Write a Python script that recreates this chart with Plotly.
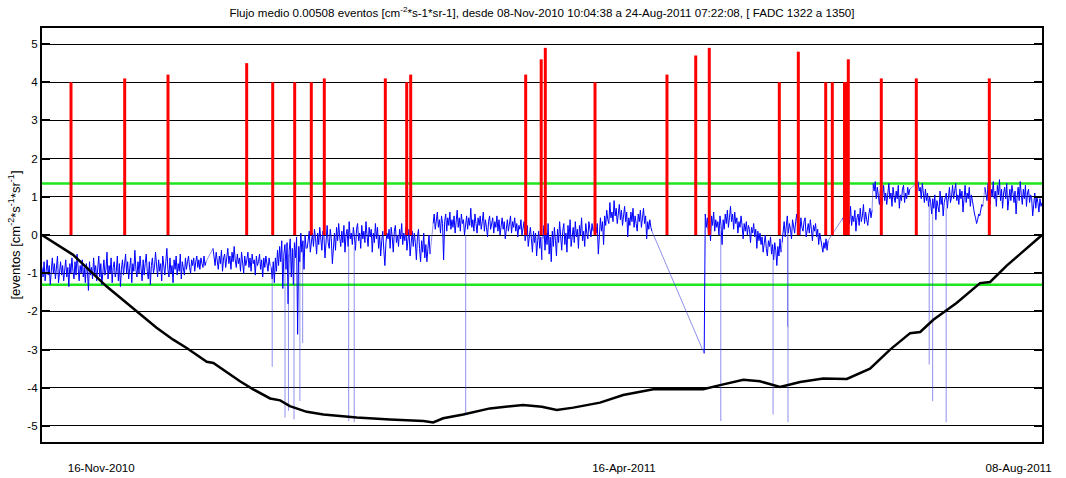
import numpy as np
import pandas as pd
import plotly.graph_objects as go

# Run period
START = pd.Timestamp("2010-11-08 10:04:38")
END = pd.Timestamp("2011-08-24 07:22:08")

# Normalised flux (blue), stored per continuous data block:
# (first day, last day) since START, then the samples of that block
seg_a_span = (0.0, 47.4)
seg_a = [-0.85, -1.10, -0.70, -1.20, -0.95, -0.65, -1.05, -0.80, -1.30, -0.90,
         -0.60, -1.00, -0.75, -1.15, -0.85, -0.55, -1.25, -0.95, -0.70, -1.05,
         -0.80, -1.20, -0.90, -0.65, -1.10, -0.85, -1.35, -0.75, -1.00, -0.60,
         -0.95, -1.15, -0.70, -1.05, -0.50, -0.90, -1.20, -0.80, -1.00, -0.65,
         -1.10, -0.85, -1.25, -0.75, -0.95, -1.45, -0.70, -1.05, -0.85, -1.15,
         -0.60, -1.00, -0.80, -1.20, -0.90, -0.55, -1.10, -0.75, -1.30, -0.85,
         -0.65, -1.05, -0.90, -0.45, -1.15, -0.80, -1.00, -0.60, -1.25, -0.85,
         -0.70, -1.10, -0.95, -0.55, -1.20, -0.75, -1.35, -0.90, -0.65, -1.05,
         -0.80, -0.50, -1.00, -0.70, -1.15, -0.85, -0.60, -1.25, -0.75, -0.95,
         -0.40, -0.90, -1.10, -0.70, -1.00, -0.55, -0.85, -1.20, -0.65, -1.05,
         -0.75, -0.50, -0.95, -1.15, -0.70, -1.30, -0.80, -0.60, -1.00, -0.85,
         -0.45, -0.90, -1.10, -0.65, -0.95, -0.75, -1.20, -0.55, -0.85, -1.05,
         -0.70, -0.35, -0.90, -1.10, -0.60, -1.00, -0.80, -1.25, -0.65, -0.90,
         -0.55, -1.05, -0.75, -0.95, -0.50, -1.15, -0.70, -0.85, -1.05, -0.60,
         -0.90, -0.70, -0.55, -0.85, -1.00, -0.65, -0.80, -0.60, -0.95, -0.70,
         -0.55, -0.85, -0.65, -0.90, -0.60, -0.75, -0.85, -0.55, -0.80, -0.70]
seg_b_span = (49.4, 65.9)
seg_b = [-0.35, -0.60, -0.80, -0.45, -0.70, -0.90, -0.55, -0.75, -0.40, -0.95,
         -0.60, -0.50, -0.85, -0.65, -0.35, -0.75, -0.55, -0.90, -0.45, -0.70,
         -0.30, -0.65, -0.85, -0.50, -0.75, -0.60, -0.95, -0.45, -0.70, -1.00,
         -0.55, -0.80, -0.65, -0.45, -0.85, -0.60, -0.95, -0.50, -0.75, -0.65,
         -1.05, -0.55, -0.80, -0.70, -0.50, -0.90, -0.65, -1.10, -0.60, -0.85,
         -0.55, -0.75, -0.95, -0.60, -0.80]
seg_c_span = (66.2, 76.3)
seg_c = [-0.85, -1.15, -0.70, -1.25, -0.60, -0.95, -0.40, -0.80, -0.30, -0.70,
         -0.15, -1.40, -0.50, -0.25, -0.90, -0.20, -1.80, -0.40, -0.10, -1.10,
         -0.35, -1.30, -0.20, -0.60, -0.05, -2.60, -0.30, -0.70, 0.05, -0.45,
         -0.15, -0.90, 0.00, -0.35]
seg_d_span = (76.6, 112.1)
seg_d = [-0.35, -0.05, 0.10, -0.45, -0.20, 0.05, -0.30, 0.15, -0.10, -0.50,
         0.05, -0.25, 0.20, -0.15, -0.40, 0.10, -0.05, -0.60, 0.00, 0.25,
         -0.20, -0.35, 0.15, -0.10, -0.75, -0.25, 0.05, -0.40, 0.20, -0.15,
         0.30, -0.05, -0.30, 0.10, -0.20, 0.25, -0.45, 0.00, 0.15, -0.30,
         0.35, -0.10, 0.05, -0.25, 0.20, -0.05, -0.40, 0.15, 0.30, -0.15,
         0.05, -0.35, 0.25, -0.10, 0.10, -0.20, 0.35, 0.00, -0.30, 0.20,
         -0.05, 0.15, -0.45, 0.05, -0.20, 0.30, -0.10, 0.20, -0.35, 0.00,
         -0.55, -0.15, 0.10, -0.40, -0.80, -0.20, 0.05, -0.10, 0.15, -0.35,
         0.20, -0.05, -0.45, 0.10, 0.25, -0.20, 0.00, -0.30, 0.15, -0.10,
         0.30, -0.25, 0.05, -0.15, 0.20, -0.40, 0.00, 0.15, -0.55, -0.10,
         0.10, -0.30, 0.05, -0.20, -0.65, -0.05, 0.15, -0.35, -0.70, -0.15,
         -0.45, 0.05, -0.60, -0.25, -0.70, -0.35, 0.00, -0.50]
seg_e_span = (113.0, 144.4)
seg_e = [0.30, 0.55, 0.15, 0.45, 0.60, 0.20, 0.40, 0.05, 0.50, 0.30,
         -0.65, 0.35, 0.55, 0.10, 0.45, 0.25, 0.60, 0.15, 0.40, 0.20,
         0.50, 0.05, 0.35, 0.65, 0.20, 0.45, 0.10, 0.55, 0.30, 0.40,
         0.00, 0.35, 0.50, 0.15, 0.45, 0.25, 0.70, 0.20, 0.40, 0.10,
         0.55, 0.30, 0.05, 0.45, 0.25, 0.50, 0.15, 0.35, 0.60, 0.10,
         0.40, 0.20, -0.05, 0.35, 0.50, 0.15, 0.30, 0.45, 0.05, 0.35,
         0.20, 0.50, 0.10, 0.40, 0.00, 0.30, 0.45, 0.15, 0.35, -0.10,
         0.25, 0.40, 0.10, 0.30, 0.50, 0.05, 0.35, 0.20, 0.45, 0.10,
         0.30, -0.05, 0.25, 0.15, 0.40, 0.00, 0.20, 0.35, -0.15, 0.10,
         0.25, -0.30, 0.05, 0.20, -0.10, -0.45, 0.10, -0.20, 0.05, -0.55,
         -0.15, 0.10, -0.35, -0.05, -0.65]
seg_f_span = (144.7, 159.2)
seg_f = [-0.10, 0.25, -0.40, 0.05, -0.25, 0.30, -0.50, -0.05, -0.70, 0.10,
         -0.30, 0.20, -0.15, -0.55, 0.15, -0.20, 0.35, -0.05, -0.40, 0.10,
         0.30, -0.25, 0.05, -0.45, 0.25, -0.10, 0.40, -0.30, 0.05, 0.20,
         -0.20, 0.35, -0.05, 0.15, -0.35, 0.25, 0.00, 0.45, -0.15, 0.10,
         -0.30, 0.30, 0.05, -0.10, 0.35, 0.15, -0.05, 0.30, 0.10]
seg_g_span = (159.5, 176.2)
seg_g = [0.15, 0.40, 0.05, 0.30, -0.50, 0.20, 0.45, 0.10, 0.35, -0.25,
         0.50, 0.25, 0.65, 0.40, 0.30, 0.85, 0.45, 0.60, 0.35, 0.90,
         0.50, 0.70, 0.30, 0.55, 0.80, 0.40, 0.65, 0.25, 0.55, 0.75,
         0.35, 0.60, -0.05, 0.45, 0.25, 0.60, 0.35, 0.70, 0.20, 0.50,
         0.30, 0.10, 0.55, 0.35, 0.65, 0.20, 0.45, 0.70, 0.30, 0.50,
         -0.10, 0.35, 0.15, 0.40, 0.20, 0.10]
seg_h_span = (191.3, 213.5)
seg_h = [-3.10, 0.55, 0.20, 0.45, 0.05, 0.35, -0.15, 0.50, 0.25, 0.60,
         0.10, 0.40, 0.20, 0.35, 0.00, 0.50, 0.25, -0.25, 0.40, 0.15,
         0.55, 0.30, 0.65, 0.20, 0.45, 0.75, 0.35, 0.55, 0.15, 0.60,
         0.30, 0.45, 0.05, 0.35, 0.20, 0.50, 0.25, -0.10, 0.30, 0.10,
         0.35, 0.00, 0.25, 0.15, -0.20, 0.20, 0.05, 0.30, -0.05, 0.15,
         -0.35, 0.10, -0.15, 0.05, -0.25, -0.05, -0.45, -0.20, 0.00, -0.35,
         -0.55, -0.15, -0.30, -0.05, -0.50, -0.25, -0.65, -0.20, -0.40, -0.80,
         -0.30, -0.55, -0.10, -0.45]
seg_i_span = (213.8, 227.1)
seg_i = [-0.20, 0.10, 0.35, -0.05, 0.25, 0.50, 0.05, 0.30, 0.15, -0.10,
         0.40, 0.20, 0.05, 0.35, 0.55, 0.15, 0.30, 0.00, 0.45, 0.20,
         0.10, 0.35, 0.45, -0.05, 0.20, 0.30, 0.05, 0.40, 0.15, -0.15,
         0.25, 0.10, 0.30, -0.05, 0.15, -0.25, 0.05, -0.10, -0.30, -0.45,
         -0.20, -0.35, -0.10, -0.40, -0.15]
seg_j_span = (231.4, 239.8)
seg_j = [0.45, 0.20, 0.55, 0.15, 0.40, 0.60, 0.30, 0.75, 0.25, 0.50,
         0.35, 0.65, 0.10, 0.45, 0.55, 0.25, 0.70, 0.35, 0.50, 0.80,
         0.30, 0.60, 0.40, 0.25, 0.55, 0.70, 0.45, 0.65]
seg_k_span = (240.1, 250.7)
seg_k = [1.35, 1.15, 1.40, 0.95, 1.25, 1.05, 0.80, 1.20, 0.70, 1.00,
         1.30, 0.90, 1.10, 0.80, 1.20, 1.35, 0.95, 1.10, 0.75, 1.25,
         1.00, 0.85, 1.15, 0.95, 1.30, 0.70, 1.05, 0.90, 1.20, 1.30,
         0.85, 1.10, 0.95, 1.25, 1.05, 1.20]
seg_l_span = (253.1, 271.8)
seg_l = [1.40, 1.15, 1.25, 0.95, 1.35, 1.05, 0.85, 1.20, 0.90, 1.10,
         0.75, 1.00, 0.85, 0.55, 0.95, 0.70, 1.05, 0.40, 0.90, 0.75,
         0.60, 1.15, 0.80, 1.00, 0.50, 0.85, 0.95, 1.10, 0.70, 1.05,
         1.25, 0.85, 1.00, 1.30, 0.95, 1.15, 1.35, 0.90, 1.05, 0.80,
         1.20, 0.95, 1.15, 0.60, 1.00, 1.30, 0.85, 1.10, 0.95, 1.25,
         0.75, 1.05, 0.90, 0.70, 0.55, 0.45, 0.30, 0.40, 0.55, 0.50,
         0.65, 0.80, 0.75]
seg_m_span = (272.4, 288.9)
seg_m = [1.25, 1.05, 0.90, 1.35, 1.10, 0.80, 1.20, 1.00, 1.40, 0.95,
         1.15, 0.75, 1.30, 1.05, 1.45, 0.90, 1.20, 0.70, 1.10, 1.25,
         0.95, 1.35, 0.65, 1.05, 1.20, 0.90, 1.30, 1.10, 0.85, 1.15,
         0.55, 1.00, 1.25, 0.90, 1.40, 1.05, 0.80, 1.20, 0.95, 1.30,
         0.75, 1.10, 1.20, 0.85, 1.05, 0.95, 0.50, 0.80, 1.10, 0.70,
         1.00, 0.85, 0.60, 0.95, 0.75, 0.85]

# Isolated deep drops of the flux (day, level before drop, lowest value)
dip_day = [66.5, 70.2, 71.2, 72.8, 74.5, 75.3, 88.6, 90.2, 122.4,
           196.1, 211.2, 215.4, 215.5, 256.3, 257.3, 261.2]
dip_from = [-0.8, -0.6, -0.5, -0.4, -0.3, -0.3, -0.3, -0.3, 0.0,
            0.1, -0.4, 0.2, 0.2, 0.8, 0.8, 0.7]
dip_low = [-3.45, -4.78, -4.60, -4.83, -4.35, -2.83, -4.87, -4.90, -4.70,
           -4.87, -4.70, -2.40, -4.90, -3.39, -4.35, -4.90]

# Detected events (red): day since START and height
event_day = [8.38, 23.89, 36.40, 59.13, 66.65, 73.00, 77.80, 81.55, 99.18,
             105.36, 106.51, 139.73, 144.21, 145.40, 159.76, 180.55, 188.85,
             192.77, 213.00, 218.49, 226.40, 228.31, 231.83, 232.35, 232.93,
             242.46, 252.57, 273.67]
event_val = [4.0, 4.1, 4.2, 4.5, 4.0, 4.0, 4.0, 4.1, 4.1,
             4.0, 4.2, 4.2, 4.6, 4.9, 4.0, 4.2, 4.7,
             4.9, 4.0, 4.8, 4.0, 4.0, 4.0, 4.0, 4.6,
             4.1, 4.1, 4.1]

# Accumulated deviation (black)
cum_day = [0.0, 9.0, 18.7, 27.4, 33.1, 37.9, 41.8, 47.6, 49.5, 57.2, 61.0,
           65.9, 68.8, 71.6, 76.5, 81.3, 90.9, 100.5, 110.2, 113.0, 115.9,
           121.7, 129.4, 139.0, 144.4, 148.7, 153.5, 161.2, 167.9, 176.6,
           191.0, 195.9, 202.6, 207.4, 213.2, 216.7, 219.0, 225.7, 232.5,
           239.2, 245.0, 250.8, 253.7, 257.5, 264.2, 271.0, 273.9, 278.7, 288.9]
cum_val = [0.0, -0.52, -1.35, -2.00, -2.43, -2.74, -2.96, -3.32, -3.35, -3.83,
           -4.04, -4.28, -4.33, -4.48, -4.63, -4.70, -4.78, -4.83, -4.87,
           -4.91, -4.80, -4.70, -4.54, -4.45, -4.50, -4.58, -4.52, -4.39,
           -4.19, -4.04, -4.04, -3.93, -3.79, -3.83, -3.98, -3.90, -3.85,
           -3.76, -3.77, -3.50, -3.00, -2.57, -2.54, -2.22, -1.78, -1.26,
           -1.23, -0.80, 0.0]

# Threshold levels (green)
upper_limit = 1.35
lower_limit = -1.30

# Axis ticks
y_ticks = [-5, -4, -3, -2, -1, 0, 1, 2, 3, 4, 5]
y_tick_text = ["-5", "-4", "-3", "-2", "-1", "0", "1", "2", "3", "4", "5"]
x_ticks = ["2010-11-16", "2011-04-16", "2011-08-08"]
x_tick_text = ["16-Nov-2010", "16-Apr-2011", "08-Aug-2011"]


def to_time(days):
    return START + pd.to_timedelta(np.asarray(days, dtype=float), unit="D")


segments = [(seg_a_span, seg_a), (seg_b_span, seg_b), (seg_c_span, seg_c),
            (seg_d_span, seg_d), (seg_e_span, seg_e), (seg_f_span, seg_f),
            (seg_g_span, seg_g), (seg_h_span, seg_h), (seg_i_span, seg_i),
            (seg_j_span, seg_j), (seg_k_span, seg_k), (seg_l_span, seg_l),
            (seg_m_span, seg_m)]

# Data blocks drawn solid; the jumps across missing data drawn as thin joins
flux_x, flux_y, join_x, join_y = [], [], [], []
prev = None
for span, vals in segments:
    t = list(to_time(np.linspace(span[0], span[1], len(vals))))
    flux_x += t + [None]
    flux_y += list(vals) + [None]
    if prev is not None:
        join_x += [prev[0], t[0], None]
        join_y += [prev[1], vals[0], None]
    prev = (t[-1], vals[-1])


def stems(days, y0, y1):
    xs, ys = [], []
    t = to_time(days)
    for ti, a, b in zip(t, y0, y1):
        xs += [ti, ti, None]
        ys += [a, b, None]
    return xs, ys


FONT = "Liberation Sans, Arial, Helvetica, sans-serif"
FS = 11.6
LIGHT_BLUE = "rgba(70,70,225,0.6)"

fig = go.Figure()

# Threshold lines
for lvl in (upper_limit, lower_limit):
    fig.add_trace(go.Scatter(x=[START, END], y=[lvl, lvl], mode="lines",
                             line=dict(color="#1ee61e", width=2.5),
                             hoverinfo="skip"))

# Flux
fig.add_trace(go.Scatter(x=join_x, y=join_y, mode="lines",
                         line=dict(color=LIGHT_BLUE, width=1)))
fig.add_trace(go.Scatter(x=flux_x, y=flux_y, mode="lines",
                         line=dict(color="#0000ff", width=1)))
dx, dy = stems(dip_day, dip_from, dip_low)
fig.add_trace(go.Scatter(x=dx, y=dy, mode="lines",
                         line=dict(color=LIGHT_BLUE, width=1)))

# Accumulated curve
fig.add_trace(go.Scatter(x=to_time(cum_day), y=cum_val, mode="lines",
                         line=dict(color="black", width=2.5)))

# Events
ex, ey = stems(event_day, [0] * len(event_val), event_val)
fig.add_trace(go.Scatter(x=ex, y=ey, mode="lines",
                         line=dict(color="#ff0000", width=3)))

fig.update_layout(
    width=1066, height=478,
    margin=dict(l=42, r=24, t=28, b=36),
    paper_bgcolor="white", plot_bgcolor="white",
    showlegend=False,
    font=dict(family=FONT, size=FS, color="black"),
    title=dict(
        text="Flujo medio 0.00508 eventos [cm<sup>-2</sup>*s-1*sr-1], desde "
             "08-Nov-2010 10:04:38 a 24-Aug-2011 07:22:08, [ FADC 1322 a 1350]",
        x=0.5, xref="paper", xanchor="center",
        y=1 - 13 / 478, yref="container", yanchor="middle",
        font=dict(family=FONT, size=FS, color="black"),
    ),
    xaxis=dict(
        type="date", range=[START, END], automargin=False,
        tickvals=x_ticks, ticktext=x_tick_text,
        ticks="", showgrid=False, zeroline=False,
        showline=True, linecolor="black", linewidth=2, mirror=True,
        ticklabelshift=33, ticklabelstandoff=14,
        tickfont=dict(family=FONT, size=FS, color="black"),
    ),
    yaxis=dict(
        range=[-5.42, 5.42], automargin=False,
        tickvals=y_ticks, ticktext=y_tick_text,
        ticks="inside", ticklen=8, tickwidth=1.5, tickcolor="black",
        showgrid=True, gridcolor="black", gridwidth=1, zeroline=False,
        showline=True, linecolor="black", linewidth=2, mirror="ticks",
        tickfont=dict(family=FONT, size=FS, color="black"),
        title=dict(text="[eventos [cm<sup>-2</sup>*s<sup>-1</sup>*sr<sup>-1</sup>]",
                   font=dict(family=FONT, size=13, color="black"), standoff=4),
    ),
)

fig.write_html("out.html")
